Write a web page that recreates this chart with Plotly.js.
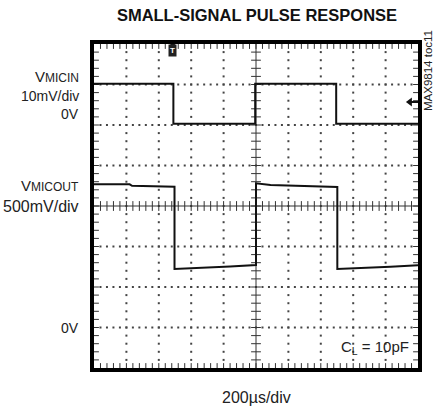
<!DOCTYPE html>
<html>
<head>
<meta charset="utf-8">
<script src="https://cdn.plot.ly/plotly-3.0.1.min.js"></script>
<style>
html,body{margin:0;padding:0;background:#fff;}
#chart{width:436px;height:412px;}
</style>
</head>
<body>
<div id="chart"></div>
<script>
// ---- data (time in microseconds, voltages in mV) ----
const micinTime = [0, 490, 490, 995, 995, 1495, 1495, 2000];
const micinMv   = [10.2, 10.2, 0.3, 0.3, 10.2, 10.2, 0.3, 0.3];
const micoutTime = [0, 220, 235, 490, 497, 497, 650, 840, 1000, 1000, 1090, 1270, 1400, 1502, 1502, 1640, 1830, 2000];
const micoutMv   = [1770, 1768, 1750, 1740, 1738, 722, 732, 752, 772, 1780, 1758, 1748, 1738, 1735, 722, 732, 750, 768];
const labels = {
  title: '<b>SMALL-SIGNAL PULSE RESPONSE</b>',
  xDiv: '200µs/div',
  inName: 'V<span style="font-size:12px">MICIN</span>',
  inScale: '10mV/div',
  inZero: '0V',
  outName: 'V<span style="font-size:12px">MICOUT</span>',
  outScale: '500mV/div',
  outZero: '0V',
  load: 'C<sub>L</sub> = 10pF',
  id: 'MAX9814 toc11'
};

const FONT = "'Liberation Sans', Arial, sans-serif";
const X0 = 0, X1 = 2000, XDIV = 200;      // 10 divisions
const Y0 = -500, Y1 = 3500, YDIV = 500;    // 8 divisions (MICOUT scale)

// ---- oscilloscope graticule (decoration) ----
const gx = [], gy = [];
for (let k = 1; k < 10; k++) {
  if (k === 5) continue;
  const x = X0 + k * XDIV;
  for (let y = Y0 + YDIV / 5; y < Y1; y += YDIV / 5) { gx.push(x); gy.push(y); }
}
for (let k = 1; k < 8; k++) {
  if (k === 4) continue;
  const y = Y0 + k * YDIV;
  for (let x = X0 + XDIV / 5; x < X1; x += XDIV / 5) { gx.push(x); gy.push(y); }
}
const cx = X0 + 5 * XDIV, cy = Y0 + 4 * YDIV;
const hTickX = [], hTickY = [], vTickX = [], vTickY = [];
for (let x = X0 + XDIV / 5; x < X1; x += XDIV / 5) {
  hTickX.push(x); hTickY.push(cy);          // centre line
  hTickX.push(x); hTickY.push(Y0);          // bottom edge
  hTickX.push(x); hTickY.push(Y1);          // top edge
}
for (let y = Y0 + YDIV / 5; y < Y1; y += YDIV / 5) {
  vTickX.push(cx); vTickY.push(y);
  vTickX.push(X0); vTickY.push(y);
  vTickX.push(X1); vTickY.push(y);
}

// trigger / level markers (decoration), position in axis units
const trigX = 486, levelY = 2784;

const traces = [
  {x: gx, y: gy, mode: 'markers', type: 'scatter', marker: {symbol: 'square', size: 2, color: '#444'}, hoverinfo: 'skip'},
  {x: [X0, X1], y: [cy, cy], mode: 'lines', type: 'scatter', line: {color: '#333', width: 1}, hoverinfo: 'skip'},
  {x: [cx, cx], y: [Y0, Y1], mode: 'lines', type: 'scatter', line: {color: '#333', width: 1}, hoverinfo: 'skip'},
  {x: hTickX, y: hTickY, mode: 'markers', type: 'scatter', marker: {symbol: 'line-ns', size: 7, line: {color: '#333', width: 1}}, hoverinfo: 'skip'},
  {x: vTickX, y: vTickY, mode: 'markers', type: 'scatter', marker: {symbol: 'line-ew', size: 7, line: {color: '#333', width: 1}}, hoverinfo: 'skip'},
  {x: micinTime, y: micinMv, yaxis: 'y2', mode: 'lines', type: 'scatter', line: {color: '#111', width: 2}, hoverinfo: 'skip'},
  {x: micoutTime, y: micoutMv, mode: 'lines', type: 'scatter', line: {color: '#111', width: 2}, hoverinfo: 'skip'},
  {x: [trigX], y: [Y1], mode: 'markers', type: 'scatter', cliponaxis: false,
   marker: {symbol: 'triangle-down', size: 7, color: '#111'}, hoverinfo: 'skip'},
  {x: [1950, X1], y: [levelY, levelY], mode: 'lines', type: 'scatter', cliponaxis: false,
   line: {color: '#111', width: 2}, hoverinfo: 'skip'},
  {x: [1950], y: [levelY], mode: 'markers', type: 'scatter', cliponaxis: false,
   marker: {symbol: 'triangle-left', size: 8, color: '#111'}, hoverinfo: 'skip'}
];

const L = 94, R = 418, T = 44, B = 368;
const px = v => (v - L) / (R - L);
const py = v => (B - v) / (B - T);
const ann = (text, x, y, xanchor, size, extra) => Object.assign({
  text: text, xref: 'paper', yref: 'paper', x: px(x), y: py(y), xanchor: xanchor, yanchor: 'middle',
  showarrow: false, font: {family: FONT, size: size, color: '#222'}
}, extra || {});

const layout = {
  width: 436, height: 412,
  margin: {l: L, r: 436 - R, t: T, b: 412 - B, pad: 0},
  paper_bgcolor: '#fff', plot_bgcolor: '#fff',
  showlegend: false,
  title: {text: labels.title, x: 257 / 436, xanchor: 'center', xref: 'container', yref: 'container',
          y: 1 - 15 / 412, yanchor: 'middle', font: {family: FONT, size: 16.5, color: '#111'}},
  xaxis: {range: [X0, X1], showgrid: false, zeroline: false, showticklabels: false, ticks: '',
          showline: true, linewidth: 4, linecolor: '#000', mirror: true, fixedrange: true},
  yaxis: {range: [Y0, Y1], showgrid: false, zeroline: false, showticklabels: false, ticks: '',
          showline: true, linewidth: 4, linecolor: '#000', mirror: true, fixedrange: true},
  yaxis2: {range: [-60, 20], overlaying: 'y', visible: false, fixedrange: true},
  annotations: [
    ann(labels.inName, 81, 76, 'right', 15),
    ann(labels.inScale, 81, 96, 'right', 14),
    ann(labels.inZero, 81, 114, 'right', 14),
    ann(labels.outName, 81, 185, 'right', 15),
    ann(labels.outScale, 81, 206, 'right', 16),
    ann(labels.outZero, 81, 328, 'right', 14),
    ann(labels.load, 375, 347, 'center', 15),
    ann(labels.xDiv, 256.7, 397, 'center', 16),
    ann(labels.id, 428, 71, 'center', 11.5, {textangle: -90}),
    ann('<b>T</b>', 172.7, 51, 'center', 8, {bgcolor: '#222', borderpad: 1, font: {family: FONT, size: 8, color: '#fff'}})
  ]
};

Plotly.newPlot('chart', traces, layout, {staticPlot: true, displayModeBar: false});
</script>
</body>
</html>
